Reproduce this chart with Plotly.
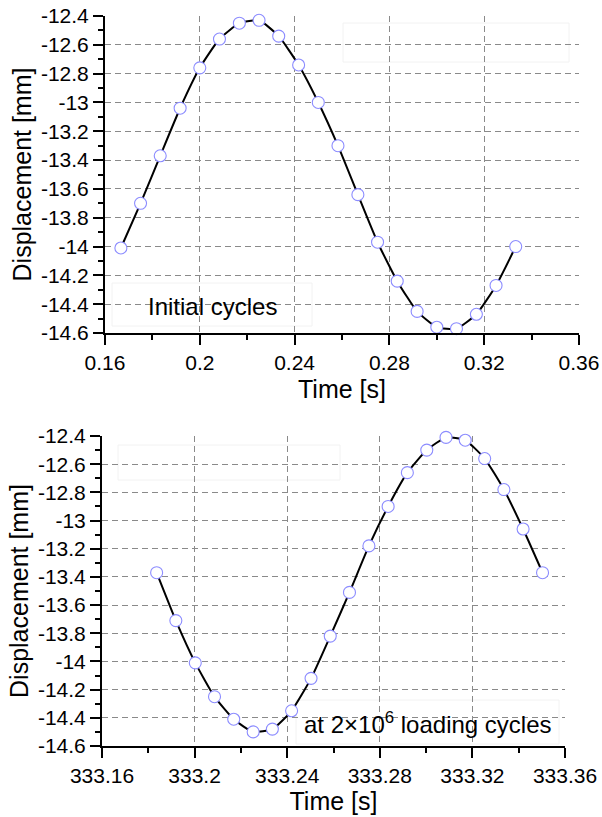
import plotly.graph_objects as go

# ---------------- data ----------------
time_initial = [0.1667, 0.1750, 0.1833, 0.1917, 0.2000, 0.2083, 0.2167, 0.2250, 0.2333, 0.2417,
                0.2500, 0.2583, 0.2667, 0.2750, 0.2833, 0.2917, 0.3000, 0.3083, 0.3167, 0.3250, 0.3333]
disp_initial = [-14.01, -13.70, -13.37, -13.04, -12.76, -12.56, -12.45, -12.43, -12.54, -12.74,
                -13.00, -13.30, -13.64, -13.97, -14.24, -14.45, -14.56, -14.57, -14.47, -14.27, -14.00]

time_2m = [333.1836, 333.1919, 333.2003, 333.2086, 333.2169, 333.2253, 333.2336, 333.2419, 333.2503,
           333.2586, 333.2669, 333.2753, 333.2836, 333.2919, 333.3003, 333.3086, 333.3169, 333.3253,
           333.3336, 333.3419, 333.3503]
disp_2m = [-13.37, -13.71, -14.01, -14.25, -14.41, -14.50, -14.48, -14.35, -14.12, -13.82,
           -13.51, -13.18, -12.90, -12.66, -12.50, -12.41, -12.43, -12.56, -12.78, -13.06, -13.37]

y_tickvals = [-12.4, -12.6, -12.8, -13.0, -13.2, -13.4, -13.6, -13.8, -14.0, -14.2, -14.4, -14.6]
y_ticktext = ["-12.4", "-12.6", "-12.8", "-13", "-13.2", "-13.4", "-13.6", "-13.8", "-14",
              "-14.2", "-14.4", "-14.6"]
y_minor = [-12.5, -12.7, -12.9, -13.1, -13.3, -13.5, -13.7, -13.9, -14.1, -14.3, -14.5]

x1_tickvals = [0.16, 0.20, 0.24, 0.28, 0.32, 0.36]
x1_ticktext = ["0.16", "0.2", "0.24", "0.28", "0.32", "0.36"]
x1_minor = [0.18, 0.22, 0.26, 0.30, 0.34]

x2_tickvals = [333.16, 333.20, 333.24, 333.28, 333.32, 333.36]
x2_ticktext = ["333.16", "333.2", "333.24", "333.28", "333.32", "333.36"]
x2_minor = [333.18, 333.22, 333.26, 333.30, 333.34]

label_top = "Initial cycles"
label_bottom = "at 2×10<sup>6</sup> loading cycles"
x_title = "Time [s]"
y_title = "Displacement [mm]"

# ---------------- layout geometry ----------------
W, H = 602, 817
ML, MR, MT, MB = 102, 23, 16, 71
PW = W - ML - MR
PH = H - MT - MB


def px_x(p):
    return (p - ML) / PW


def px_y(p):
    return (H - MB - p) / PH


FONT = "Arial, 'Liberation Sans', sans-serif"

line_style = dict(color="black", width=2, shape="spline", smoothing=0.5)
marker_style = dict(symbol="circle", size=12, color="white",
                    line=dict(color="#8c8cff", width=1.1))

fig = go.Figure()
fig.add_trace(go.Scatter(x=time_initial, y=disp_initial, mode="lines+markers",
                         line=line_style, marker=marker_style, xaxis="x", yaxis="y",
                         cliponaxis=False, showlegend=False))
fig.add_trace(go.Scatter(x=time_2m, y=disp_2m, mode="lines+markers",
                         line=line_style, marker=marker_style, xaxis="x2", yaxis="y2",
                         cliponaxis=False, showlegend=False))

common_axis = dict(
    showline=True, linecolor="black", linewidth=2, mirror=False,
    ticks="outside", ticklen=10, tickwidth=2, tickcolor="black",
    showgrid=True, gridcolor="#8a8a8a", gridwidth=1, griddash="6px,4px",
    zeroline=False, automargin=False,
    tickfont=dict(family=FONT, size=21, color="black"),
    tickmode="array",
)

minor_common = dict(ticks="outside", ticklen=5, tickwidth=2, tickcolor="black", showgrid=False)

TITLE_FONT = dict(family=FONT, size=25, color="black")

fig.update_layout(
    width=W, height=H,
    margin=dict(l=ML, r=MR, t=MT, b=MB),
    paper_bgcolor="white", plot_bgcolor="white",
    font=dict(family=FONT, color="black"),
    xaxis=dict(common_axis, domain=[px_x(105), px_x(579)], anchor="y",
               range=[0.16, 0.36], tickvals=x1_tickvals, ticktext=x1_ticktext,
               minor=dict(minor_common, tickvals=x1_minor),
               title=dict(text=x_title, font=TITLE_FONT, standoff=7)),
    yaxis=dict(common_axis, domain=[px_y(333), px_y(16)], anchor="x",
               range=[-14.6, -12.4], tickvals=y_tickvals, ticktext=y_ticktext,
               minor=dict(minor_common, tickvals=y_minor),
               title=dict(text=y_title, font=TITLE_FONT, standoff=2)),
    xaxis2=dict(common_axis, domain=[px_x(102), px_x(565)], anchor="y2",
                range=[333.16, 333.36], tickvals=x2_tickvals, ticktext=x2_ticktext,
                minor=dict(minor_common, tickvals=x2_minor),
                title=dict(text=x_title, font=TITLE_FONT, standoff=4)),
    yaxis2=dict(common_axis, domain=[px_y(746), px_y(436)], anchor="x2",
                range=[-14.6, -12.4], tickvals=y_tickvals, ticktext=y_ticktext,
                minor=dict(minor_common, tickvals=y_minor),
                title=dict(text=y_title, font=TITLE_FONT, standoff=2)),
)

# white boxes (legend / label frames) hiding the grid
boxes = [
    (112, 283, 312, 326),   # Initial cycles frame
    (343, 23, 569, 62),     # empty legend frame, top chart
    (118, 445, 340, 480),   # empty legend frame, bottom chart
    (296, 700, 559, 744),   # loading cycles frame
]
for x0, y0, x1, y1 in boxes:
    fig.add_shape(type="rect", xref="paper", yref="paper",
                  x0=px_x(x0), x1=px_x(x1), y0=px_y(y1), y1=px_y(y0),
                  fillcolor="white", line=dict(color="#f2f2f2", width=1), layer="between")

fig.add_annotation(text=label_top, xref="paper", yref="paper", x=px_x(212), y=px_y(306),
                   xanchor="center", yanchor="middle", showarrow=False,
                   font=dict(family=FONT, size=24, color="black"))
fig.add_annotation(text=label_bottom, xref="paper", yref="paper", x=px_x(428), y=px_y(723),
                   xanchor="center", yanchor="middle", showarrow=False,
                   font=dict(family=FONT, size=24, color="black"))

fig.write_html("out.html", config={"displayModeBar": False},
               post_script="document.body.style.margin='0';document.body.style.overflow='hidden';")
